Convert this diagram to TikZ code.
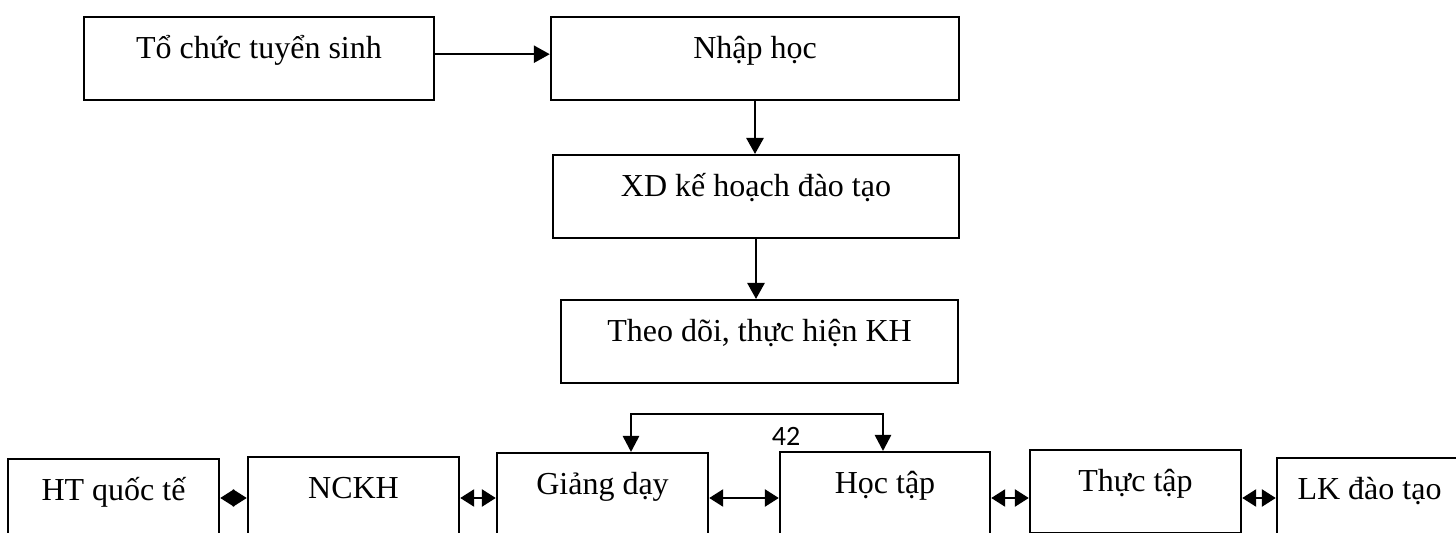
\documentclass[tikz,border=0pt]{standalone}
\usepackage{fontspec}
\setmainfont{Liberation Serif}
\newfontfamily\pagenumfont{Carlito}
\usetikzlibrary{arrows.meta}
\pgfkeys{tikz/stagebox/.style={draw,line width=1.2pt,anchor=north,inner xsep=0pt,inner ysep=0pt,text height=20.5pt,text depth=21pt,font=\fontsize{16}{19}\selectfont}}
\pgfkeys{tikz/flowarrow/.style={line width=1.3pt,-{Triangle[length=8pt,width=8.5pt]}}}
\pgfkeys{tikz/looparrow/.style={line width=1.3pt,{Triangle[length=8pt,width=8pt]}-{Triangle[length=8pt,width=8pt]}}}
\pgfkeys{tikz/linkarrow/.style={line width=1.3pt,{Triangle[length=7pt,width=8.5pt]}-{Triangle[length=7pt,width=8.5pt]}}}
% name, centre x, top y, width (px), text
\newcommand*\stage[5]{\node [stagebox,minimum width=#4*0.5pt] (#1) at (#2,#3) {#5};}

\begin{document}
\begin{tikzpicture}[x=0.5pt,y=-0.5pt]
\fill[white] (0,0) rectangle (1456,533);
\useasboundingbox (0,0) rectangle (1456,533);
\clip (0,0) rectangle (1456,533);

% main flow
\stage{tuyen}{259}{16}{350}{Tổ chức tuyển sinh}
\stage{nhap}{755}{16}{408}{Nhập học}
\stage{xdkh}{756}{154}{406}{XD kế hoạch đào tạo}
\stage{theodoi}{759.5}{299}{397}{Theo dõi, thực hiện KH}

\draw[flowarrow] ([yshift=2.25pt]tuyen.east) -- ([yshift=2.25pt]nhap.west);
\draw[flowarrow] (nhap.south) -- (nhap.south |- xdkh.north);
\draw[flowarrow] (xdkh.south) -- (xdkh.south |- theodoi.north);

% bottom row
\stage{htqt}{113.5}{458}{211}{HT quốc tế}
\stage{nckh}{353.5}{456}{211}{NCKH}
\stage{giangday}{602.5}{452}{211}{Giảng dạy}
\stage{hoctap}{885}{451}{210}{Học tập}
\stage{thuctap}{1135.5}{449}{211}{Thực tập}
\stage{lkdt}{1369.5}{457}{185}{LK đào tạo}

\coordinate (loopL) at (631,414);
\coordinate (loopR) at (883,414);
\draw[looparrow] (loopL |- giangday.north) -- (loopL) -- (loopR) -- (loopR |- hoctap.north);

\coordinate (linkrow) at (0,498);
\foreach \a/\b in {htqt/nckh,nckh/giangday,giangday/hoctap,hoctap/thuctap,thuctap/lkdt}
  \draw[linkarrow] (\a.east |- linkrow) -- (\b.west |- linkrow);

\node[font=\pagenumfont\fontsize{14}{16}\selectfont] (pagenum) at (786,436) {42};
\end{tikzpicture}
\end{document}
